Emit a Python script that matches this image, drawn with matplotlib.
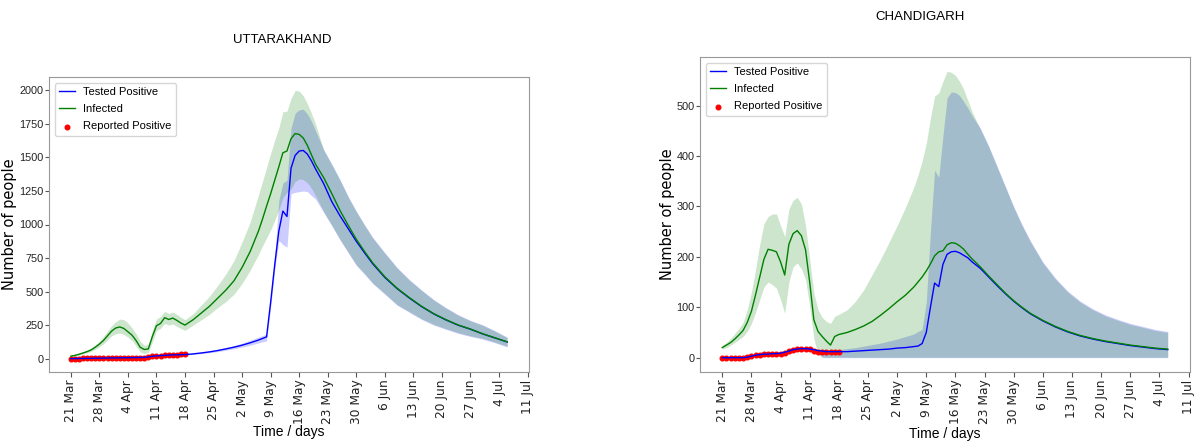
import numpy as np
import matplotlib
matplotlib.use('Agg')
import matplotlib.pyplot as plt
import matplotlib.dates as mdates
from matplotlib.ticker import FuncFormatter

# day offsets from 21 Mar 2020 for the model curves
START = np.datetime64('2020-03-21')
DAYS = (list(range(0, 29)) + list(range(30, 47, 2)) + list(range(47, 61))
        + [62, 64, 66, 68, 70, 72, 74, 77, 80, 83, 86, 89, 92, 95, 98, 101, 104, 107])
REPORTED_DAYS = list(range(0, 29))

# ---- UTTARAKHAND ----
uk_infected = [18, 24, 32, 42, 52, 65, 85, 108, 135, 170, 205, 228, 236, 225, 200, 175, 135, 85, 68, 72,
               165, 245, 262, 305, 292, 302, 285, 265, 250,
               290, 340, 390, 450, 510, 580, 680, 800, 950,
               1040, 1137, 1230, 1330, 1430, 1535, 1548, 1640, 1678, 1672, 1645, 1590, 1520, 1450,
               1350, 1230, 1105, 995, 890, 800, 715, 610, 525, 455, 390, 335, 290, 250, 220, 185, 155, 125]
uk_inf_lo = [14, 19, 26, 34, 43, 54, 70, 88, 110, 140, 170, 185, 190, 180, 160, 135, 95, 50, 38, 45,
             125, 210, 225, 262, 250, 258, 240, 225, 210,
             250, 290, 330, 380, 425, 480, 560, 660, 775,
             840, 900, 960, 1030, 1110, 1200, 1240, 1265, 1320, 1340, 1335, 1310, 1270, 1215,
             1095, 995, 890, 795, 700, 635, 565, 485, 403, 350, 297, 255, 223, 193, 170, 150, 123, 92]
uk_inf_hi = [22, 30, 40, 52, 64, 80, 103, 130, 165, 205, 245, 275, 295, 290, 265, 230, 185, 130, 100, 105,
             210, 295, 315, 352, 337, 347, 330, 308, 290,
             335, 400, 465, 545, 630, 730, 870, 1020, 1220,
             1320, 1425, 1530, 1630, 1720, 1840, 1845, 1940, 2000, 1995, 1960, 1900, 1830, 1750,
             1555, 1445, 1330, 1205, 1095, 995, 900, 785, 675, 585, 508, 436, 376, 323, 281, 248, 204, 157]
uk_tested = [0, 0, 1, 1, 2, 2, 3, 3, 4, 4, 5, 5, 6, 6, 7, 7, 8, 8, 9, 12,
             17, 20, 22, 24, 26, 27, 28, 29, 30,
             35, 42, 50, 60, 72, 85, 100, 118, 138,
             150, 162, 420, 700, 950, 1100, 1060, 1420, 1515, 1548, 1552, 1525, 1475, 1415,
             1305, 1170, 1065, 970, 875, 790, 708, 605, 522, 452, 388, 333, 288, 249, 219, 184, 154, 124]
uk_test_lo = [0, 0, 0, 0, 1, 1, 2, 2, 3, 3, 4, 4, 5, 5, 6, 6, 7, 7, 8, 10,
              15, 18, 20, 22, 24, 25, 26, 27, 28,
              31, 37, 44, 52, 62, 73, 86, 100, 117,
              125, 132, 380, 660, 880, 850, 830, 1230, 1240, 1245, 1250, 1245, 1215, 1190,
              1090, 990, 885, 790, 695, 630, 560, 480, 398, 345, 292, 250, 218, 188, 165, 145, 118, 87]
uk_test_hi = [1, 1, 2, 2, 3, 3, 4, 4, 5, 5, 6, 7, 7, 8, 8, 9, 10, 10, 11, 14,
              19, 23, 25, 27, 29, 30, 31, 32, 33,
              40, 48, 57, 68, 82, 97, 115, 137, 160,
              172, 185, 470, 760, 1180, 1310, 1330, 1720, 1830, 1855, 1860, 1825, 1770, 1700,
              1560, 1450, 1335, 1210, 1100, 1000, 905, 790, 680, 590, 512, 440, 380, 327, 285, 252, 208, 160]
uk_reported = [0, 0, 0, 1, 1, 1, 2, 3, 3, 4, 4, 5, 5, 5, 5, 6, 6, 7, 7, 10,
               17, 20, 22, 25, 26, 28, 30, 31, 33]

# ---- CHANDIGARH ----
ch_infected = [20, 25, 30, 37, 45, 54, 70, 92, 125, 160, 195, 215, 213, 210, 190, 164, 225, 246, 252, 242,
               214, 150, 75, 52, 42, 33, 25, 42, 46,
               50, 56, 63, 72, 84, 97, 111, 124, 140,
               150, 160, 172, 186, 202, 210, 212, 224, 228, 227, 222, 215, 205, 196,
               180, 162, 145, 128, 113, 100, 88, 74, 62, 52, 44, 38, 33, 29, 25, 22, 19, 17]
ch_inf_lo = [17, 20, 25, 30, 36, 42, 52, 68, 90, 115, 140, 150, 145, 138, 115, 88, 150, 180, 188, 176,
             155, 101, 38, 6, 2, 1, 1, 1, 1,
             1, 1, 1, 1, 1, 1, 1, 1, 1,
             1, 1, 1, 1, 1, 1, 1, 1, 1, 1, 1, 1, 1, 1,
             1, 1, 1, 1, 1, 1, 1, 1, 1, 1, 1, 1, 1, 1, 1, 1, 1, 1]
ch_inf_hi = [25, 30, 38, 48, 58, 70, 95, 130, 175, 225, 265, 280, 285, 285, 262, 240, 295, 312, 318, 305,
             262, 195, 128, 95, 80, 72, 68, 82, 86,
             95, 112, 135, 165, 195, 228, 262, 298, 338,
             362, 390, 425, 475, 519, 525, 548, 568, 566, 560, 548, 532, 510, 488,
             453, 418, 378, 338, 298, 262, 230, 188, 156, 130, 110, 95, 83, 74, 66, 60, 54, 50]
ch_tested = [0, 0, 0, 0, 0, 0, 1, 3, 5, 6, 7, 7, 8, 8, 9, 11, 13, 16, 17, 18,
             18, 17, 16, 14, 13, 12, 12, 12, 12,
             12, 13, 14, 15, 16, 17, 19, 20, 22,
             23, 28, 50, 100, 148, 141, 185, 205, 210, 211, 208, 203, 198, 190,
             177, 160, 143, 127, 112, 99, 87, 73, 61, 51, 43, 37, 32, 28, 24, 21, 18, 16]
ch_test_lo = [0, 0, 0, 0, 0, 0, 0, 1, 3, 4, 5, 5, 6, 6, 7, 9, 11, 14, 15, 16,
              16, 15, 14, 10, 0, 0, 0, 0, 0,
              0, 0, 0, 0, 0, 0, 0, 0, 0,
              0, 0, 0, 0, 0, 0, 0, 0, 0, 0, 0, 0, 0, 0,
              0, 0, 0, 0, 0, 0, 0, 0, 0, 0, 0, 0, 0, 0, 0, 0, 0, 0]
ch_test_hi = [1, 1, 1, 1, 1, 1, 2, 4, 6, 8, 9, 9, 10, 10, 11, 13, 15, 18, 19, 20,
              20, 19, 18, 16, 15, 15, 15, 16, 16,
              18, 20, 23, 26, 29, 33, 37, 42, 47,
              52, 56, 110, 250, 372, 358, 440, 515, 527, 526, 520, 508, 495, 480,
              455, 420, 380, 340, 300, 264, 232, 190, 158, 132, 112, 97, 85, 76, 68, 62, 56, 52]
ch_reported = [0, 0, 0, 0, 0, 0, 1, 4, 5, 6, 7, 8, 8, 8, 8, 9, 13, 15, 17, 18,
               18, 17, 14, 12, 11, 11, 11, 12, 12]

LABEL_FONT = ['Liberation Sans', 'DejaVu Sans']


def day_fmt(v, pos):
    d = mdates.num2date(v)
    return f'{d.day} {d:%b}'


def draw_panel(ax, infected, inf_lo, inf_hi, tested, test_lo, test_hi, reported):
    x = START + np.array(DAYS, dtype='timedelta64[D]')
    xr = START + np.array(REPORTED_DAYS, dtype='timedelta64[D]')

    ax.fill_between(x, test_lo, test_hi, color='blue', alpha=0.2, lw=0)
    ax.fill_between(x, inf_lo, inf_hi, color='green', alpha=0.2, lw=0)
    ax.plot(x, tested, color='blue', lw=1, label='Tested Positive')
    ax.plot(x, infected, color='green', lw=1, label='Infected')
    ax.scatter(xr, reported, s=11, color='red', label='Reported Positive')

    ax.xaxis.set_major_locator(mdates.WeekdayLocator(byweekday=mdates.SA))
    ax.xaxis.set_major_formatter(FuncFormatter(day_fmt))
    ax.tick_params(axis='x', labelrotation=90, labelsize=8.8, colors='#222222', pad=2)
    ax.tick_params(axis='y', labelsize=7.8, labelfontfamily=LABEL_FONT, colors='#222222',
                   pad=1, length=3)
    ax.tick_params(color='#555555')
    for sp in ax.spines.values():
        sp.set_color('#999999')

    ax.set_xlabel('Time / days', family=LABEL_FONT, size=10)
    ax.set_ylabel('Number of people', size=10.5)
    ax.legend(loc='upper left', prop={'family': LABEL_FONT, 'size': 8},
              handlelength=1.4, labelspacing=0.65)


fig = plt.figure(figsize=(11.94, 4.45), dpi=100)

ax1 = fig.add_axes([49 / 1194, 73 / 445, 480 / 1194, 295 / 445])
draw_panel(ax1, uk_infected, uk_inf_lo, uk_inf_hi, uk_tested, uk_test_lo, uk_test_hi, uk_reported)
ax1.yaxis.set_label_coords(-0.066, 0.5)
ax1.xaxis.set_label_coords(0.5, -0.178)

ax2 = fig.add_axes([700 / 1194, 73 / 445, 490 / 1194, 315 / 445])
draw_panel(ax2, ch_infected, ch_inf_lo, ch_inf_hi, ch_tested, ch_test_lo, ch_test_hi, ch_reported)
ax2.yaxis.set_label_coords(-0.05, 0.5)
ax2.xaxis.set_label_coords(0.5, -0.176)

fig.text(282 / 1194, 1 - 40 / 445, 'UTTARAKHAND', ha='center', va='center', family=LABEL_FONT, size=9.5)
fig.text(920 / 1194, 1 - 17 / 445, 'CHANDIGARH', ha='center', va='center', family=LABEL_FONT, size=9.5)

fig.savefig('out.png', dpi=100, facecolor='white')
